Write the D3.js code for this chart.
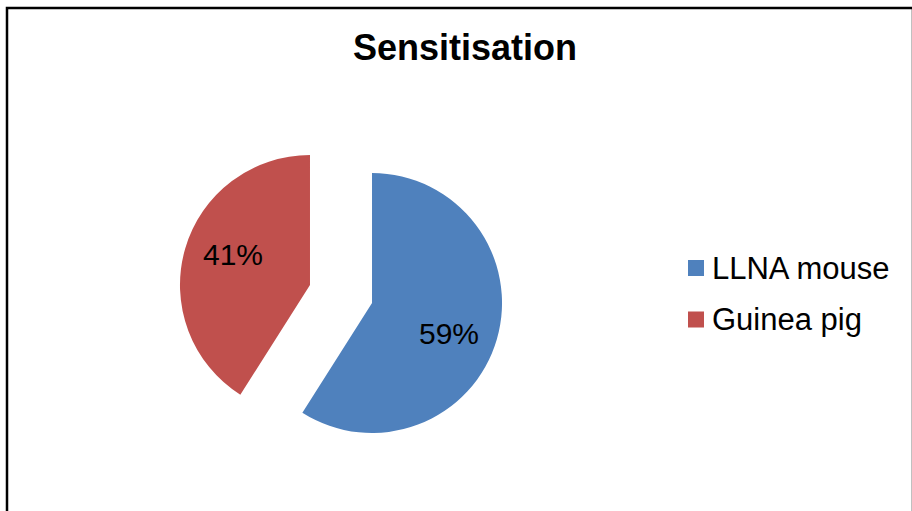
<!DOCTYPE html>
<html lang="en">
<head>
    <meta charset="UTF-8">
    <title>Sensitisation</title>
    <script src="https://d3js.org/d3.v7.min.js"></script>
    <style>
        body { margin: 0; background: #fff; }
        svg { display: block; font-family: "Liberation Sans", Arial, sans-serif; }
        .title { font-size: 36px; font-weight: bold; }
        .label { font-size: 30px; }
        .legend text { font-size: 31px; }
    </style>
</head>
<body>
    <div id="chart"></div>

    <script>
        const width = 912;
        const height = 511;

        // data
        const categories = ["LLNA mouse", "Guinea pig"];
        const values = [59, 41];
        const colors = ["#4F81BD", "#C0504D"];

        const svg = d3.select("#chart")
            .append("svg")
            .attr("width", width)
            .attr("height", height);

        // chart frame
        svg.append("rect")
            .attr("x", 7)
            .attr("y", 8)
            .attr("width", 906)
            .attr("height", 510)
            .attr("fill", "none")
            .attr("stroke", "#000")
            .attr("stroke-width", 2.5);

        svg.append("text")
            .attr("class", "title")
            .attr("x", 465)
            .attr("y", 60)
            .attr("text-anchor", "middle")
            .text("Sensitisation");

        const radius = 130;
        const explode = 32.3;
        const cx = 341, cy = 294;

        const pie = d3.pie().sort(null).value(d => d);
        const arcs = pie(values);

        const arc = d3.arc().innerRadius(0).outerRadius(radius);

        const g = svg.append("g").attr("transform", `translate(${cx},${cy})`);

        const slice = g.selectAll("g.slice")
            .data(arcs)
            .enter().append("g")
            .attr("class", "slice")
            .attr("transform", d => {
                const a = (d.startAngle + d.endAngle) / 2;
                return `translate(${Math.sin(a) * explode},${-Math.cos(a) * explode})`;
            });

        slice.append("path")
            .attr("d", arc)
            .attr("fill", (d, i) => colors[i]);

        // percentage labels
        const total = d3.sum(values);
        slice.append("text")
            .attr("class", "label")
            .attr("text-anchor", "middle")
            .attr("dy", "0.35em")
            .attr("x", d => Math.sin((d.startAngle + d.endAngle) / 2 + 0.1) * 83)
            .attr("y", d => -Math.cos((d.startAngle + d.endAngle) / 2 + 0.1) * 83)
            .text(d => Math.round(d.value / total * 100) + "%");

        // legend
        const legend = svg.append("g")
            .attr("class", "legend")
            .attr("transform", "translate(688,260)");

        const item = legend.selectAll("g")
            .data(categories)
            .enter().append("g")
            .attr("transform", (d, i) => `translate(0,${i * 51.5})`);

        item.append("rect")
            .attr("width", 16)
            .attr("height", 16)
            .attr("fill", (d, i) => colors[i]);

        item.append("text")
            .attr("x", 24)
            .attr("y", 18.5)
            .text(d => d);
    </script>
</body>
</html>
